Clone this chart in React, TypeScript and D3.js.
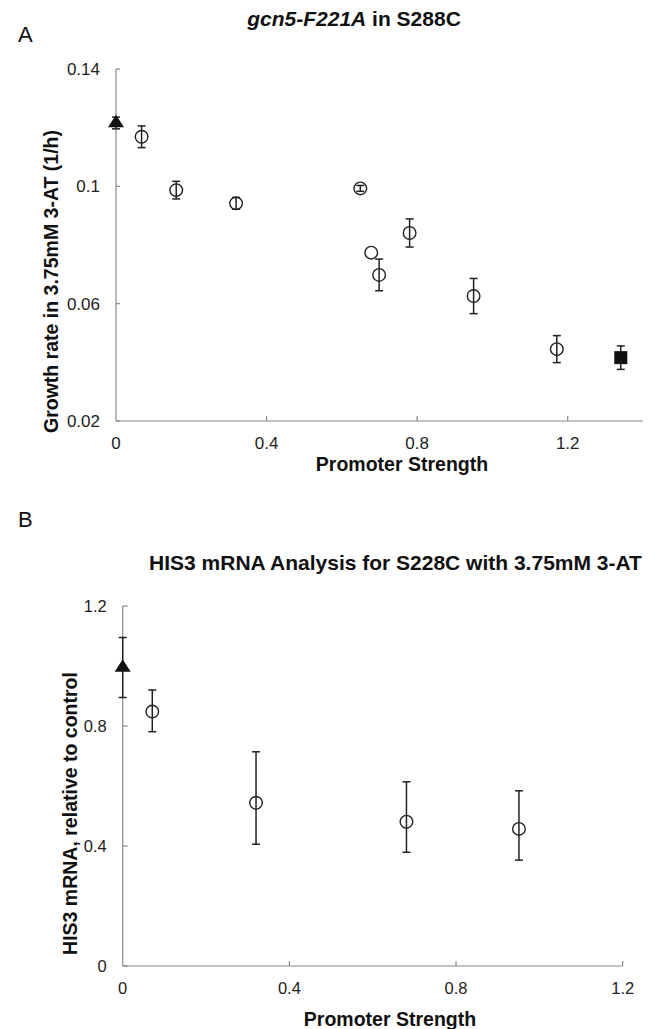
import React from "react";
import * as d3 from "d3";

// ---- Panel A data ----
const aCircleX = [0.068, 0.16, 0.319, 0.649, 0.678, 0.699, 0.78, 0.95, 1.171];
const aCircleY = [0.1169, 0.0987, 0.0942, 0.0993, 0.0774, 0.0698, 0.0841, 0.0626, 0.0445];
const aCircleErr = [0.0037, 0.003, 0.002, 0.001, 0, 0.0054, 0.0048, 0.006, 0.0046];
const aControlX = [0];
const aControlY = [0.1216];
const aControlErr = [0.002];
const aSquareX = [1.341];
const aSquareY = [0.0416];
const aSquareErr = [0.004];
const aXTicks = [0, 0.4, 0.8, 1.2];
const aYTicks = [0.02, 0.06, 0.1, 0.14];
const aYTickLabels = ["0.02", "0.06", "0.1", "0.14"];
const aXTickLabels = ["0", "0.4", "0.8", "1.2"];

// ---- Panel B data ----
const bCircleX = [0.071, 0.32, 0.681, 0.951];
const bCircleY = [0.848, 0.544, 0.481, 0.457];
const bErrHi = [0.072, 0.17, 0.133, 0.127];
const bErrLo = [0.067, 0.138, 0.102, 0.104];
const bControlX = [0];
const bControlY = [0.995];
const bControlErr = [0.1];
const bXTicks = [0, 0.4, 0.8, 1.2];
const bYTicks = [0, 0.4, 0.8, 1.2];
const bXTickLabels = ["0", "0.4", "0.8", "1.2"];
const bYTickLabels = ["0", "0.4", "0.8", "1.2"];

const FONT = "'Liberation Sans', Arial, sans-serif";
const AXIS = "#8a8a8a";
const INK = "#222";

function ErrBar({ x, y1, y2, cap = 4 }: { x: number; y1: number; y2: number; cap?: number }) {
  return (
    <g stroke={INK} strokeWidth={1.5}>
      <line x1={x} x2={x} y1={y1} y2={y2} />
      <line x1={x - cap} x2={x + cap} y1={y1} y2={y1} />
      <line x1={x - cap} x2={x + cap} y1={y2} y2={y2} />
    </g>
  );
}

const triPath = d3.symbol().type(d3.symbolTriangle).size(100)();

export default function App() {
  // Panel A scales
  const ax = d3.scaleLinear().domain([0, 1.4]).range([116, 643]);
  const ay = d3.scaleLinear().domain([0.02, 0.14]).range([421, 69]);
  // Panel B scales
  const bx = d3.scaleLinear().domain([0, 1.2]).range([122.7, 622.7]);
  const by = d3.scaleLinear().domain([0, 1.2]).range([966, 606]);

  return (
    <svg
      width={658}
      height={1029}
      style={{ position: "absolute", left: 0, top: 0, background: "#fff" }}
      fontFamily={FONT}
    >
      <rect x={0} y={0} width={658} height={1029} fill="#fff" />
      {/* ===== Panel A ===== */}
      <text x={18} y={42} fontSize={22} fill="#111">A</text>
      <text x={354} y={26} fontSize={21} fontWeight="bold" textAnchor="middle" fill="#111">
        <tspan fontStyle="italic">gcn5-F221A</tspan> in S288C
      </text>
      {/* axes */}
      <line x1={ax(0)} x2={ax(0)} y1={ay(0.14)} y2={ay(0.02)} stroke={AXIS} strokeWidth={1.2} />
      <line x1={ax(0)} x2={ax(1.4)} y1={ay(0.02)} y2={ay(0.02)} stroke={AXIS} strokeWidth={1.2} />
      {aYTicks.map((t, i) => (
        <g key={"ayt" + i}>
          <line x1={ax(0)} x2={ax(0) + 4} y1={ay(t)} y2={ay(t)} stroke={AXIS} strokeWidth={1.2} />
          <text x={ax(0) - 16} y={ay(t)} dy="0.35em" fontSize={17} textAnchor="end" fill="#222">
            {aYTickLabels[i]}
          </text>
        </g>
      ))}
      {aXTicks.map((t, i) => (
        <g key={"axt" + i}>
          {i > 0 && <line x1={ax(t)} x2={ax(t)} y1={ay(0.02)} y2={ay(0.02) - 5} stroke={AXIS} strokeWidth={1.2} />}
          <text x={ax(t)} y={ay(0.02) + 28} fontSize={17} textAnchor="middle" fill="#222">
            {aXTickLabels[i]}
          </text>
        </g>
      ))}
      <text x={402} y={471} fontSize={19.5} fontWeight="bold" textAnchor="middle" fill="#111">
        Promoter Strength
      </text>
      <text
        transform={`translate(58,${281.5}) rotate(-90)`}
        fontSize={19.5}
        fontWeight="bold"
        textAnchor="middle"
        fill="#111"
      >
        Growth rate in 3.75mM 3-AT (1/h)
      </text>
      {/* data A */}
      {aCircleX.map((x, i) =>
        aCircleErr[i] > 0 ? (
          <ErrBar key={"ae" + i} x={ax(x)} y1={ay(aCircleY[i] + aCircleErr[i])} y2={ay(aCircleY[i] - aCircleErr[i])} />
        ) : null
      )}
      {aCircleX.map((x, i) => (
        <circle key={"ac" + i} cx={ax(x)} cy={ay(aCircleY[i])} r={6.3} fill="none" stroke={INK} strokeWidth={1.4} />
      ))}
      {aControlX.map((x, i) => (
        <g key={"at" + i}>
          <ErrBar x={ax(x)} y1={ay(aControlY[i] + aControlErr[i])} y2={ay(aControlY[i] - aControlErr[i])} />
          <path d={triPath as string} transform={`translate(${ax(x)},${ay(aControlY[i])}) scale(1.05,0.95)`} fill="#111" />
        </g>
      ))}
      {aSquareX.map((x, i) => (
        <g key={"as" + i}>
          <ErrBar x={ax(x)} y1={ay(aSquareY[i] + aSquareErr[i])} y2={ay(aSquareY[i] - aSquareErr[i])} />
          <rect x={ax(x) - 6.5} y={ay(aSquareY[i]) - 6.5} width={13} height={13} fill="#111" />
        </g>
      ))}

      {/* ===== Panel B ===== */}
      <text x={18} y={527} fontSize={22} fill="#111">B</text>
      <text x={395.5} y={570} fontSize={21} fontWeight="bold" textAnchor="middle" fill="#111">
        HIS3 mRNA Analysis for S228C with 3.75mM 3-AT
      </text>
      <line x1={bx(0)} x2={bx(0)} y1={by(1.2)} y2={by(0)} stroke={AXIS} strokeWidth={1.2} />
      <line x1={bx(0)} x2={bx(1.2)} y1={by(0)} y2={by(0)} stroke={AXIS} strokeWidth={1.2} />
      {bYTicks.map((t, i) => (
        <g key={"byt" + i}>
          <line x1={bx(0)} x2={bx(0) + 5} y1={by(t)} y2={by(t)} stroke={AXIS} strokeWidth={1.2} />
          <text x={bx(0) - 16} y={by(t)} dy="0.35em" fontSize={16.5} textAnchor="end" fill="#222">
            {bYTickLabels[i]}
          </text>
        </g>
      ))}
      {bXTicks.map((t, i) => (
        <g key={"bxt" + i}>
          {i > 0 && <line x1={bx(t)} x2={bx(t)} y1={by(0)} y2={by(0) - 5} stroke={AXIS} strokeWidth={1.2} />}
          <text x={bx(t)} y={by(0) + 28} fontSize={16.5} textAnchor="middle" fill="#222">
            {bXTickLabels[i]}
          </text>
        </g>
      ))}
      <text x={390} y={1026} fontSize={19.5} fontWeight="bold" textAnchor="middle" fill="#111">
        Promoter Strength
      </text>
      <text
        transform={`translate(77,${813.5}) rotate(-90)`}
        fontSize={19.5}
        fontWeight="bold"
        textAnchor="middle"
        fill="#111"
      >
        HIS3 mRNA, relative to control
      </text>
      {bCircleX.map((x, i) => (
        <ErrBar key={"be" + i} x={bx(x)} y1={by(bCircleY[i] + bErrHi[i])} y2={by(bCircleY[i] - bErrLo[i])} />
      ))}
      {bCircleX.map((x, i) => (
        <circle key={"bc" + i} cx={bx(x)} cy={by(bCircleY[i])} r={6.3} fill="none" stroke={INK} strokeWidth={1.4} />
      ))}
      {bControlX.map((x, i) => (
        <g key={"bt" + i}>
          <ErrBar x={bx(x)} y1={by(bControlY[i] + bControlErr[i])} y2={by(bControlY[i] - bControlErr[i])} />
          <path d={triPath as string} transform={`translate(${bx(x)},${by(bControlY[i])}) scale(1.05,0.95)`} fill="#111" />
        </g>
      ))}
    </svg>
  );
}
